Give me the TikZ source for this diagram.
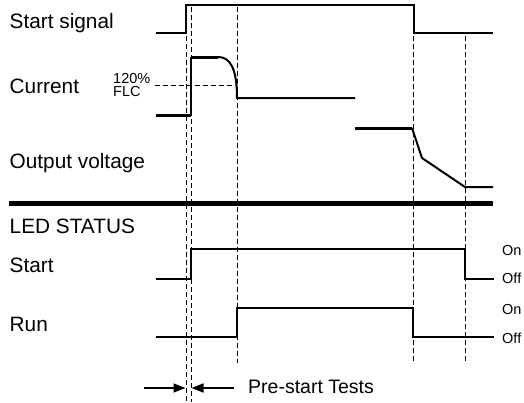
\documentclass[tikz,border=0pt]{standalone}
\usepackage{fontspec}
\setmainfont{Liberation Sans}
\usetikzlibrary{arrows.meta}
\begin{document}
\begin{tikzpicture}[x=1pt,y=-1pt,
  lbl/.style={anchor=base west,inner sep=0pt,font=\fontsize{20.8}{24}\selectfont},
  small/.style={anchor=base west,inner sep=0pt,font=\fontsize{14.5}{16}\selectfont},
  sig/.style={line width=2pt,line join=miter},
  heavy/.style={line width=3pt},
  guide/.style={line width=0.9pt,dash pattern=on 5pt off 3pt},
  sep/.style={line width=5pt},
  dim/.style={line width=1.5pt,-{Triangle[length=12pt,width=9pt]}}]
\useasboundingbox (0,0) rectangle (524,402);
% labels
\node[lbl] (ls) at (9.5,28) {Start signal};
\node[lbl] (lc) at (9.5,93) {Current};
\node[lbl] (lo) at (9.5,168) {Output voltage};
\node[lbl] (led) at (9.5,233) {LED STATUS};
\node[lbl] (lst) at (9.5,272) {Start};
\node[lbl] (lrun) at (9.5,331) {Run};
\node[small] (p120) at (113,83) {120\%};
\node[small] (flc) at (113,96) {FLC};
\node[small] (on1) at (502,255) {On};
\node[small] (off1) at (502,283) {Off};
\node[small] (on2) at (502,314) {On};
\node[small] (off2) at (502,343) {Off};
\node[lbl,font=\fontsize{19.5}{22}\selectfont] (pst) at (248,393) {Pre-start Tests};
% guides
\draw[guide] (186,36) -- (186,402);
\draw[guide] (191,7) -- (191,402);
\draw[guide] (237,7) -- (237,363);
\draw[guide] (413,36) -- (413,363);
\draw[guide] (465,36) -- (465,363);
\draw[guide] (155,85) -- (237,85);
% start signal
\draw[sig] (156,33) -- (186,33) -- (186,5) -- (414,5) -- (414,33) -- (493,33);
% current
\draw[heavy] (156,115) -- (191,115);
\draw[sig] (191,116) -- (191,57);
\draw[heavy] (191,57) -- (218,57);
\draw[sig] (218,57) .. controls (230,57) and (237,68) .. (237,98) -- (355,98);
% output voltage
\draw[heavy] (355,128) -- (412,128);
\draw[sig] (412,128) -- (422,158) -- (465,187) -- (493,187);
% separator
\draw[sep] (9,203) -- (493,203);
% LED start
\draw[sig] (156,279) -- (191,279) -- (191,249) -- (465,249) -- (465,279) -- (494,279);
% LED run
\draw[sig] (156,337) -- (237,337) -- (237,308) -- (413,308) -- (413,337) -- (494,337);
% pre-start arrows
\coordinate (a1) at (144,388);
\coordinate (a2) at (185.5,388);
\coordinate (b1) at (234,388);
\coordinate (b2) at (191.5,388);
\draw[dim] (a1) -- (a2);
\draw[dim] (b1) -- (b2);
\end{tikzpicture}
\end{document}
